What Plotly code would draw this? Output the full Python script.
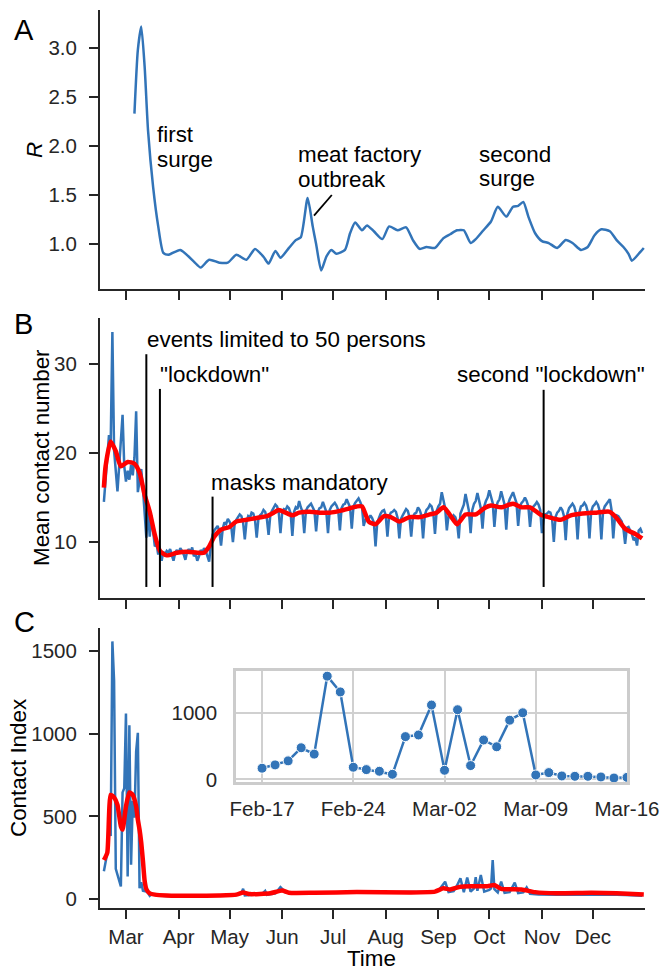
import plotly.graph_objects as go
import pandas as pd

W, H = 661, 971
FONT = "Liberation Sans, Arial, sans-serif"
INK = "#262626"
BLUE = "#3274b8"
RED = "#ff0000"

# ---------------- Panel A: reproduction number R ----------------
r_dates = ["2020-03-06", "2020-03-08", "2020-03-10", "2020-03-12", "2020-03-14", "2020-03-17",
           "2020-03-20", "2020-03-23", "2020-03-26", "2020-04-02", "2020-04-10", "2020-04-14",
           "2020-04-19", "2020-04-25", "2020-04-30", "2020-05-05", "2020-05-11", "2020-05-16",
           "2020-05-21", "2020-05-24", "2020-05-28", "2020-05-31", "2020-06-05", "2020-06-09",
           "2020-06-12", "2020-06-16", "2020-06-19", "2020-06-21", "2020-06-24", "2020-06-27",
           "2020-06-30", "2020-07-03", "2020-07-08", "2020-07-11", "2020-07-14", "2020-07-18",
           "2020-07-21", "2020-07-25", "2020-07-30", "2020-08-03", "2020-08-08", "2020-08-13",
           "2020-08-17", "2020-08-21", "2020-08-25", "2020-08-30", "2020-09-04", "2020-09-08",
           "2020-09-12", "2020-09-16", "2020-09-20", "2020-09-23", "2020-09-27", "2020-10-02",
           "2020-10-06", "2020-10-11", "2020-10-15", "2020-10-18", "2020-10-21", "2020-10-24",
           "2020-10-28", "2020-11-01", "2020-11-05", "2020-11-10", "2020-11-15", "2020-11-19",
           "2020-11-24", "2020-11-28", "2020-12-02", "2020-12-06", "2020-12-11", "2020-12-15",
           "2020-12-19", "2020-12-22", "2020-12-24", "2020-12-29", "2020-12-31"]
r_values = [2.33, 2.98, 3.22, 2.81, 2.16, 1.58,
            1.18, 0.91, 0.89, 0.94, 0.82, 0.76,
            0.84, 0.81, 0.81, 0.89, 0.84, 0.95,
            0.87, 0.80, 0.93, 0.86, 0.96, 1.04,
            1.07, 1.47, 1.18, 1.00, 0.73, 0.87,
            0.94, 0.90, 0.94, 1.11, 1.22, 1.14,
            1.19, 1.13, 1.05, 1.18, 1.14, 1.17,
            1.04, 0.95, 0.97, 0.96, 1.06, 1.10,
            1.14, 1.14, 1.01, 1.05, 1.13, 1.23,
            1.38, 1.28, 1.38, 1.39, 1.43, 1.28,
            1.11, 1.03, 1.01, 0.96, 1.04, 1.01,
            0.94, 0.97, 1.09, 1.15, 1.13, 1.04,
            0.97, 0.90, 0.83, 0.92, 0.96]

# ---------------- Panel B: mean contact number ----------------
contact_start = "2020-02-17"
contact_daily = [
    14.5, 17.0, 19.6, 22.0, 21.0, 33.6, 20.3,
    17.8, 15.7, 18.5, 21.5, 24.3, 18.5, 16.8,
    18.0, 17.0, 18.7, 17.5, 19.5, 24.7, 15.6,
    17.0, 18.2, 16.0, 13.5, 10.5, 13.8, 10.6,
    13.0, 11.0, 9.5, 9.8, 8.6, 9.2, 7.9,
    8.9, 8.6, 9.0, 8.8, 9.2, 8.5, 7.9,
    8.8, 9.1, 8.7, 9.3, 9.0, 8.6, 8.0,
    8.9, 9.2, 8.8, 9.4, 8.4, 8.7, 7.9,
    8.4, 9.1, 8.8, 9.3, 9.0, 8.5, 7.8,
    9.8, 10.8, 11.3, 11.6, 11.8, 11.2, 9.6,
    11.5, 12.2, 12.0, 12.6, 12.3, 11.8, 10.0,
    12.0, 12.5, 12.8, 13.1, 12.9, 12.2, 10.3,
    12.3, 12.9, 12.7, 13.3, 13.2, 12.5, 10.5,
    12.6, 13.0, 13.2, 13.6, 13.4, 12.6, 10.8,
    13.0, 13.5, 13.9, 14.2, 14.0, 13.3, 11.0,
    13.3, 13.7, 13.6, 14.0, 13.8, 13.2, 10.7,
    13.4, 13.9, 13.7, 14.6, 13.9, 13.4, 11.0,
    13.5, 13.9, 14.1, 14.3, 13.9, 13.5, 11.2,
    13.4, 13.8, 13.9, 14.5, 14.0, 13.4, 11.0,
    13.6, 14.0, 14.2, 14.4, 14.1, 13.6, 11.3,
    13.8, 14.2, 14.3, 14.8, 14.4, 13.9, 11.5,
    14.0, 14.4, 14.6, 14.9, 14.5, 14.0, 11.8,
    12.5, 12.8, 12.6, 13.0, 12.7, 12.2, 9.5,
    12.2, 12.8, 13.2, 13.5, 13.6, 13.0, 10.6,
    12.9, 13.3, 13.4, 13.6, 13.4, 12.7, 10.4,
    12.6, 13.0, 13.3, 13.7, 13.5, 12.8, 10.6,
    12.8, 13.2, 13.3, 13.9, 13.6, 13.0, 10.4,
    13.0, 13.6, 13.8, 14.2, 14.0, 13.3, 10.9,
    13.5, 14.0, 14.3, 15.6, 14.5, 13.8, 11.3,
    13.0, 12.8, 12.6, 13.0, 12.8, 12.2, 10.4,
    13.2, 13.8, 14.2, 15.4, 14.3, 13.5, 11.0,
    13.6, 14.3, 14.6, 15.5, 14.6, 13.8, 11.5,
    14.0, 14.6, 15.0, 15.8, 15.0, 14.4, 11.7,
    13.9, 14.5, 14.8, 15.7, 14.9, 14.2, 11.4,
    14.2, 14.8, 15.2, 15.6, 15.0, 14.4, 11.8,
    14.0, 14.4, 14.6, 15.0, 14.6, 14.0, 11.7,
    13.6, 14.0, 14.2, 14.5, 14.2, 13.6, 11.0,
    12.6, 13.1, 13.2, 13.4, 13.3, 12.6, 10.0,
    12.8, 13.3, 13.5, 13.9, 13.6, 12.9, 10.2,
    13.2, 13.8, 14.0, 14.3, 14.0, 13.3, 10.3,
    13.3, 14.0, 14.1, 14.4, 14.1, 13.4, 10.4,
    13.4, 14.0, 14.2, 14.5, 14.2, 13.5, 10.3,
    13.4, 14.0, 14.3, 14.6, 14.8, 13.6, 10.4,
    12.8, 13.0, 12.9, 12.6, 12.3, 11.5, 9.8,
    11.6, 11.7, 11.3, 10.9, 10.2, 10.5, 9.6,
    11.3, 11.5, 11.0,
]
contact_dates = pd.date_range(contact_start, periods=len(contact_daily), freq="D")

contact_avg_dates = ["2020-02-17", "2020-02-18", "2020-02-21", "2020-02-24", "2020-02-27", "2020-03-02",
                     "2020-03-06", "2020-03-09", "2020-03-12", "2020-03-15", "2020-03-18", "2020-03-21",
                     "2020-03-25", "2020-03-31", "2020-04-06", "2020-04-12", "2020-04-16", "2020-04-19",
                     "2020-04-22", "2020-04-26", "2020-05-01", "2020-05-05", "2020-05-11", "2020-05-17",
                     "2020-05-23", "2020-05-27", "2020-05-30", "2020-06-03", "2020-06-07", "2020-06-11",
                     "2020-06-17", "2020-06-23", "2020-06-29", "2020-07-05", "2020-07-11", "2020-07-15",
                     "2020-07-18", "2020-07-22", "2020-07-26", "2020-07-31", "2020-08-04", "2020-08-09",
                     "2020-08-15", "2020-08-21", "2020-08-27", "2020-08-31", "2020-09-04", "2020-09-08",
                     "2020-09-12", "2020-09-17", "2020-09-23", "2020-09-28", "2020-10-02", "2020-10-08",
                     "2020-10-15", "2020-10-20", "2020-10-25", "2020-10-31", "2020-11-05", "2020-11-12",
                     "2020-11-18", "2020-11-25", "2020-12-03", "2020-12-11", "2020-12-15", "2020-12-20",
                     "2020-12-26", "2020-12-30"]
contact_avg = [16.1, 18.5, 21.3, 20.2, 18.5, 19.0,
               18.8, 17.8, 15.3, 13.4, 10.8, 9.0,
               8.5, 8.8, 8.9, 8.8, 8.8, 9.5,
               10.6, 11.4, 11.7, 12.3, 12.5, 12.7,
               12.9, 13.3, 13.6, 13.3, 13.0, 13.3,
               13.4, 13.3, 13.3, 13.5, 13.8, 14.0,
               14.0, 12.3, 12.0, 12.9, 12.8, 12.3,
               12.8, 12.8, 13.1, 13.3, 13.9, 13.0,
               12.0, 13.1, 13.1, 13.8, 14.1, 13.9,
               14.3, 13.9, 13.9, 13.1, 12.8, 12.5,
               13.0, 13.2, 13.3, 13.4, 12.7, 11.5,
               10.9, 10.4]

event_dates = ["2020-03-13", "2020-03-21", "2020-04-21", "2020-11-02"]
event_tops = [31.1, 27.2, 15.1, 27.1]
event_bottom = 4.95

# ---------------- Panel C: contact index ----------------
ci_dates = ["2020-02-17", "2020-02-18", "2020-02-19", "2020-02-20", "2020-02-21", "2020-02-22",
            "2020-02-23", "2020-02-24", "2020-02-25", "2020-02-26", "2020-02-27", "2020-02-28",
            "2020-02-29", "2020-03-01", "2020-03-02", "2020-03-03", "2020-03-04", "2020-03-05",
            "2020-03-06", "2020-03-07", "2020-03-08", "2020-03-09", "2020-03-10", "2020-03-11",
            "2020-03-12", "2020-03-13", "2020-03-14", "2020-03-15", "2020-03-16",
            "2020-03-20", "2020-03-25", "2020-04-01", "2020-04-10", "2020-04-20", "2020-04-30",
            "2020-05-05", "2020-05-08", "2020-05-09", "2020-05-10", "2020-05-15", "2020-05-20",
            "2020-05-22", "2020-05-23", "2020-05-28", "2020-05-30", "2020-05-31", "2020-06-01",
            "2020-06-03", "2020-06-10", "2020-06-20", "2020-06-30", "2020-07-10", "2020-07-20",
            "2020-07-30", "2020-08-10", "2020-08-20", "2020-08-28", "2020-09-01", "2020-09-03",
            "2020-09-05", "2020-09-07", "2020-09-10", "2020-09-12", "2020-09-14", "2020-09-16",
            "2020-09-18", "2020-09-20", "2020-09-22", "2020-09-23", "2020-09-24", "2020-09-26",
            "2020-09-28", "2020-10-01", "2020-10-02", "2020-10-03", "2020-10-04", "2020-10-06",
            "2020-10-08", "2020-10-10", "2020-10-13", "2020-10-16", "2020-10-18", "2020-10-21",
            "2020-10-23", "2020-10-25", "2020-10-30", "2020-11-10", "2020-11-20", "2020-12-01",
            "2020-12-10", "2020-12-20", "2020-12-30"]
ci_values = [168, 218, 279, 477, 381, 1558,
             1320, 183, 147, 122, 76, 645,
             670, 1122, 137, 1051, 208, 594,
             492, 893, 1005, 66, 102, 51,
             46, 46, 36, 20, 30,
             22, 18, 17, 18, 20, 24,
             25, 35, 62, 22, 27, 30,
             50, 26, 35, 60, 72, 62,
             40, 35, 38, 37, 40, 40,
             41, 39, 40, 45, 50, 75,
             105, 42, 48, 82, 125, 42,
             130, 45, 65, 132, 50, 145,
             45, 55, 65, 236, 60, 40,
             105, 38, 42, 99, 36, 40,
             70, 32, 28, 26, 28, 30,
             28, 25, 20]
n_inset = 29  # Feb-17 .. Mar-16 shown in the inset

ci_avg_dates = ["2020-02-17", "2020-02-19", "2020-02-21", "2020-02-23", "2020-02-25", "2020-02-27",
                "2020-02-28", "2020-03-01", "2020-03-03", "2020-03-05", "2020-03-07", "2020-03-08",
                "2020-03-09", "2020-03-10", "2020-03-11", "2020-03-12", "2020-03-13", "2020-03-15",
                "2020-03-18", "2020-03-25", "2020-04-10", "2020-04-25", "2020-05-05", "2020-05-09",
                "2020-05-13", "2020-05-25", "2020-06-01", "2020-06-05", "2020-06-20", "2020-07-15",
                "2020-08-15", "2020-08-30", "2020-09-04", "2020-09-08", "2020-09-14", "2020-09-20",
                "2020-09-30", "2020-10-04", "2020-10-08", "2020-10-20", "2020-10-28", "2020-11-10",
                "2020-11-30", "2020-12-15", "2020-12-31"]
ci_avg = [236, 280, 630, 615, 570, 440,
          420, 560, 645, 630, 560, 480,
          420, 340, 230, 110, 60, 35,
          27, 22, 20, 22, 27, 40,
          30, 35, 52, 38, 38, 42,
          40, 45, 65, 58, 75, 78,
          78, 85, 62, 58, 42, 35,
          38, 35, 28]

month_ticks = ["2020-03-01", "2020-04-01", "2020-05-01", "2020-06-01", "2020-07-01", "2020-08-01",
               "2020-09-01", "2020-10-01", "2020-11-01", "2020-12-01"]
month_labels = ["Mar", "Apr", "May", "Jun", "Jul", "Aug", "Sep", "Oct", "Nov", "Dec"]
inset_ticks = ["2020-02-17", "2020-02-24", "2020-03-02", "2020-03-09", "2020-03-16"]
inset_labels = ["Feb-17", "Feb-24", "Mar-02", "Mar-09", "Mar-16"]

# ---------------- figure ----------------
fig = go.Figure()
fig.add_trace(go.Scatter(x=r_dates, y=r_values, mode="lines",
                         line=dict(color=BLUE, width=2.5, shape="spline", smoothing=0.6),
                         xaxis="x", yaxis="y", showlegend=False))
fig.add_trace(go.Scatter(x=contact_dates, y=contact_daily, mode="lines", line=dict(color=BLUE, width=2.5),
                         xaxis="x2", yaxis="y2", showlegend=False))
fig.add_trace(go.Scatter(x=contact_avg_dates, y=contact_avg, mode="lines",
                         line=dict(color=RED, width=4.5, shape="spline", smoothing=0.6),
                         xaxis="x2", yaxis="y2", showlegend=False))
fig.add_trace(go.Scatter(x=ci_dates, y=ci_values, mode="lines", line=dict(color=BLUE, width=2.5),
                         xaxis="x3", yaxis="y3", showlegend=False))
fig.add_trace(go.Scatter(x=ci_avg_dates, y=ci_avg, mode="lines",
                         line=dict(color=RED, width=4.5, shape="spline", smoothing=0.5),
                         xaxis="x3", yaxis="y3", showlegend=False))
fig.add_trace(go.Scatter(x=ci_dates[:n_inset], y=ci_values[:n_inset], mode="lines+markers",
                         line=dict(color=BLUE, width=2.5),
                         marker=dict(color=BLUE, size=10, line=dict(color="white", width=1)),
                         xaxis="x4", yaxis="y4", showlegend=False))


def dom_x(a, b):
    return [a / W, b / W]


def dom_y(top, bottom):
    return [1 - bottom / H, 1 - top / H]


XR = ["2020-02-14 17:00", "2020-12-31 17:00"]
tickfont = dict(family=FONT, size=20.5, color=INK)
common_x = dict(domain=dom_x(100, 645), range=XR, type="date", tickvals=month_ticks, ticktext=month_labels,
                ticks="outside", ticklen=9, tickwidth=2, tickcolor=INK, showline=True, linecolor=INK,
                linewidth=2, showgrid=False, zeroline=False, tickfont=tickfont, automargin=False)
common_y = dict(ticks="outside", ticklen=9, tickwidth=2, tickcolor=INK, showline=True, linecolor=INK,
                linewidth=2, showgrid=False, zeroline=False, tickfont=tickfont, automargin=False,
                ticklabelstandoff=8)

fig.update_layout(
    width=W, height=H, autosize=False,
    margin=dict(l=0, r=0, t=0, b=0, pad=0),
    paper_bgcolor="white", plot_bgcolor="white",
    font=dict(family=FONT, color=INK),
    xaxis=dict(common_x, anchor="y", showticklabels=False),
    xaxis2=dict(common_x, anchor="y2", showticklabels=False),
    xaxis3=dict(common_x, anchor="y3", showticklabels=True),
    yaxis=dict(common_y, domain=dom_y(10, 289), anchor="x", range=[0.541, 3.388],
               tickvals=[1.0, 1.5, 2.0, 2.5, 3.0], ticktext=["1.0", "1.5", "2.0", "2.5", "3.0"]),
    yaxis2=dict(common_y, domain=dom_y(318, 598), anchor="x2", range=[3.71, 35.17], tickvals=[10, 20, 30]),
    yaxis3=dict(common_y, domain=dom_y(628, 908), anchor="x3", range=[-54, 1639],
                tickvals=[0, 500, 1000, 1500]),
    xaxis4=dict(domain=dom_x(236, 627), anchor="y4", type="date", range=["2020-02-15", "2020-03-16"],
                tickvals=inset_ticks, ticktext=inset_labels, showgrid=True, gridcolor="#d0d0d0",
                gridwidth=2, showline=True, mirror=True, linecolor="#cccccc", linewidth=2.5,
                zeroline=False, ticks="outside", ticklen=7, tickcolor="rgba(0,0,0,0)", tickfont=tickfont,
                automargin=False),
    yaxis4=dict(domain=dom_y(671, 782), anchor="x4", range=[-40, 1636], tickvals=[0, 1000],
                showgrid=True, gridcolor="#d0d0d0", gridwidth=2, showline=True, mirror=True,
                linecolor="#cccccc", linewidth=2.5, zeroline=False, ticks="outside", ticklen=12,
                tickcolor="rgba(0,0,0,0)", tickfont=tickfont, automargin=False),
)

# event lines (panel B)
for d, top in zip(event_dates, event_tops):
    fig.add_shape(type="line", xref="x2", yref="y2", x0=d, x1=d, y0=event_bottom, y1=top,
                  line=dict(color="black", width=2))
# pointer line for meat factory outbreak (panel A)
fig.add_shape(type="line", xref="x", yref="y", x0="2020-06-19 18:00", y0=1.29,
              x1="2020-06-30 06:00", y1=1.50, line=dict(color="black", width=1.8))

ANN = 22.4


def txt(text, px, py, size=ANN, xanchor="left", **kw):
    fig.add_annotation(text=text, x=px / W, y=1 - py / H, xref="paper", yref="paper",
                       xanchor=xanchor, yanchor="middle", showarrow=False,
                       font=dict(family=FONT, size=size, color="black"), **kw)


# panel letters
txt("A", 12, 30, size=29)
txt("B", 12, 324, size=29)
txt("C", 12, 622, size=29)

# panel A notes
txt("first", 155, 135)
txt("surge", 155, 159)
txt("meat factory", 296, 155)
txt("outbreak", 296, 179)
txt("second", 477, 155)
txt("surge", 477, 178)

# panel B notes
txt("events limited to 50 persons", 145, 339)
txt("\"lockdown\"", 158, 374)
txt("masks mandatory", 209, 482)
txt("second \"lockdown\"", 647, 374, xanchor="right")

# axis titles
txt("<i>R</i>", 35, 150, xanchor="center", textangle=-90)
txt("Mean contact number", 41, 458, xanchor="center", textangle=-90)
txt("Contact Index", 18, 768, xanchor="center", textangle=-90)
txt("Time", 372, 958, xanchor="center")

fig.write_html("out.html")
